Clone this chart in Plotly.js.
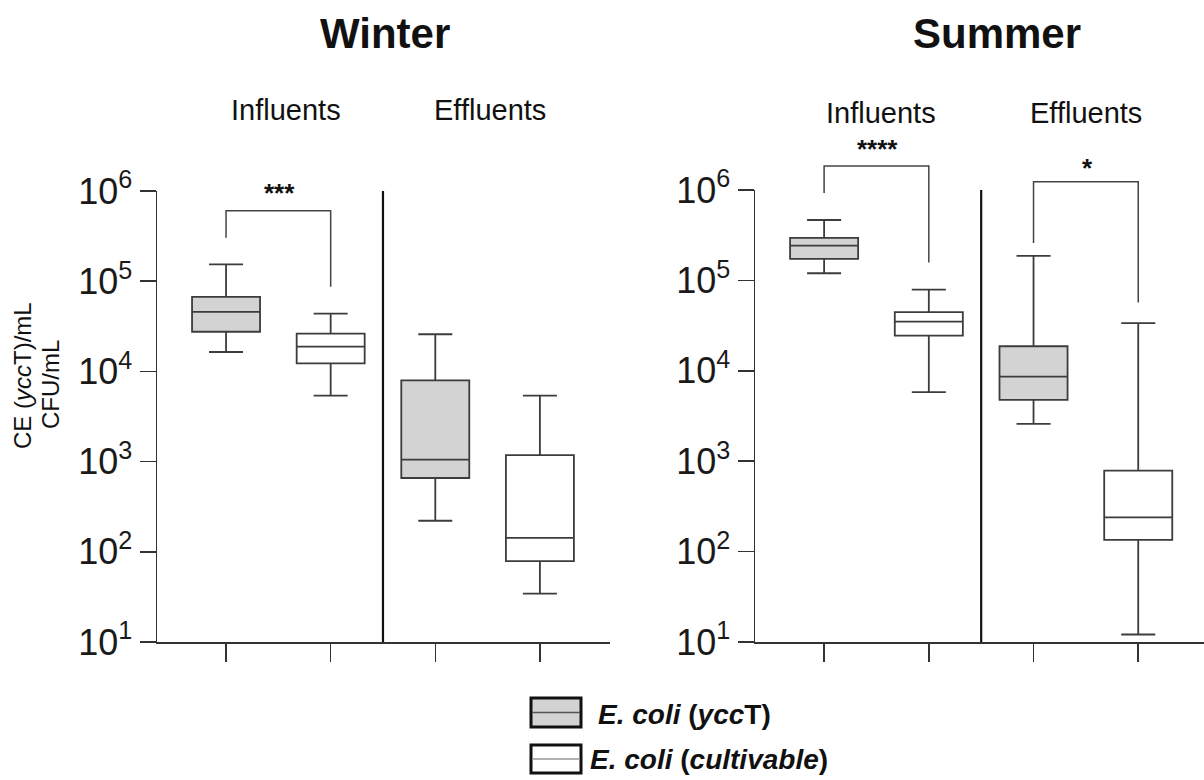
<!DOCTYPE html>
<html>
<head>
<meta charset="utf-8">
<script src="https://cdn.plot.ly/plotly-3.0.1.min.js"></script>
<style>
  html, body { margin: 0; padding: 0; background: #ffffff; }
  #chart { width: 1204px; height: 780px; }
</style>
</head>
<body>
<div id="chart"></div>
<script>
// ---- Data ----
const groups = ['Influents', 'Effluents'];
const seasons = ['Winter', 'Summer'];
const seriesNames = ['E. coli (yccT)', 'E. coli (cultivable)'];

// Winter, E. coli (yccT): [Influents, Effluents]
const winterYccLower  = [1.64e4, 221];
const winterYccQ1     = [2.75e4, 658];
const winterYccMedian = [4.56e4, 1050];
const winterYccQ3     = [6.7e4, 7970];
const winterYccUpper  = [1.54e5, 2.58e4];

// Winter, E. coli (cultivable)
const winterCultLower  = [5.4e3, 34.3];
const winterCultQ1     = [1.23e4, 79];
const winterCultMedian = [1.88e4, 143];
const winterCultQ3     = [2.62e4, 1180];
const winterCultUpper  = [4.36e4, 5380];

// Summer, E. coli (yccT)
const summerYccLower  = [1.2e5, 2590];
const summerYccQ1     = [1.73e5, 4780];
const summerYccMedian = [2.42e5, 8600];
const summerYccQ3     = [2.95e5, 1.87e4];
const summerYccUpper  = [4.66e5, 1.87e5];

// Summer, E. coli (cultivable)
const summerCultLower  = [5.8e3, 12.1];
const summerCultQ1     = [2.45e4, 135];
const summerCultMedian = [3.5e4, 239];
const summerCultQ3     = [4.45e4, 785];
const summerCultUpper  = [7.9e4, 3.37e4];

const yTickVals = [10, 100, 1000, 10000, 100000, 1000000];
const yTickText = ['10<sup>1</sup>', '10<sup>2</sup>', '10<sup>3</sup>', '10<sup>4</sup>', '10<sup>5</sup>', '10<sup>6</sup>'];
const significance = { winterInfluents: '***', summerInfluents: '****', summerEffluents: '*' };

// positions: yccT boxes at 0 and 2, cultivable at 1 and 3
const yccPos = [0, 2];
const cultPos = [1, 3];

// ---- helpers ----
const W = 1204, H = 780;
const px = x => x / W;
const py = y => 1 - y / H;
const FONT = 'Liberation Sans, Arial, Helvetica, sans-serif';
const LINE = '#3c3c3c';

function box(name, xs, lo, q1, med, q3, hi, fill, xa, ya) {
  return {
    type: 'box', name: name, x: xs,
    lowerfence: lo, q1: q1, median: med, q3: q3, upperfence: hi,
    width: 0.65, whiskerwidth: 0.5,
    fillcolor: fill, line: { color: LINE, width: 1.8 },
    boxpoints: false, showlegend: false, hoverinfo: 'skip',
    xaxis: xa, yaxis: ya
  };
}

const data = [
  box(seriesNames[0], yccPos, winterYccLower, winterYccQ1, winterYccMedian, winterYccQ3, winterYccUpper, '#d3d3d3', 'x', 'y'),
  box(seriesNames[1], cultPos, winterCultLower, winterCultQ1, winterCultMedian, winterCultQ3, winterCultUpper, '#ffffff', 'x', 'y'),
  box(seriesNames[0], yccPos, summerYccLower, summerYccQ1, summerYccMedian, summerYccQ3, summerYccUpper, '#d3d3d3', 'x2', 'y2'),
  box(seriesNames[1], cultPos, summerCultLower, summerCultQ1, summerCultMedian, summerCultQ3, summerCultUpper, '#ffffff', 'x2', 'y2')
];

function xAxis(domain, range) {
  return {
    domain: domain, range: range, type: 'linear',
    showline: true, linecolor: '#333', linewidth: 1.5,
    ticks: 'outside', ticklen: 18, tickwidth: 1.5, tickcolor: '#333',
    tickvals: [0, 1, 2, 3], ticktext: ['', '', '', ''],
    showgrid: false, zeroline: false, fixedrange: true, automargin: false
  };
}
function yAxis(domain, anchor) {
  return {
    domain: domain, type: 'log', range: [1, 6], anchor: anchor,
    showline: true, linecolor: '#333', linewidth: 1.5,
    ticks: 'outside', ticklen: 16, tickwidth: 1.5, tickcolor: '#333',
    tickvals: yTickVals, ticktext: yTickText,
    tickfont: { family: FONT, size: 36, color: '#1a1a1a' },
    showgrid: false, zeroline: false, fixedrange: true, automargin: false
  };
}

const shapes = [];
// separators between Influents and Effluents
shapes.push({ type: 'line', xref: 'x', yref: 'paper', x0: 1.5, x1: 1.5, y0: py(642), y1: py(191), line: { color: '#111', width: 2.2 } });
shapes.push({ type: 'line', xref: 'x2', yref: 'paper', x0: 1.5, x1: 1.5, y0: py(642), y1: py(190), line: { color: '#111', width: 2.2 } });

function bracket(xref, xa, xb, top, leftBot, rightBot) {
  return {
    type: 'path', xref: xref, yref: 'paper',
    path: `M ${xa},${py(leftBot)} L ${xa},${py(top)} L ${xb},${py(top)} L ${xb},${py(rightBot)}`,
    line: { color: '#444', width: 1.5 }
  };
}
shapes.push(bracket('x', 0, 1, 210.7, 237.7, 286.7));
shapes.push(bracket('x2', 0, 1, 166, 193, 262.5));
shapes.push(bracket('x2', 2, 3, 181.8, 243, 302.5));

// legend swatches
shapes.push({ type: 'rect', xref: 'paper', yref: 'paper', x0: px(531), x1: px(581), y0: py(727), y1: py(698), fillcolor: '#d3d3d3', line: { color: '#111', width: 3 } });
shapes.push({ type: 'line', xref: 'paper', yref: 'paper', x0: px(532), x1: px(580), y0: py(712.5), y1: py(712.5), line: { color: '#555', width: 1.5 } });
shapes.push({ type: 'rect', xref: 'paper', yref: 'paper', x0: px(531), x1: px(581), y0: py(773), y1: py(745), fillcolor: '#ffffff', line: { color: '#111', width: 3 } });
shapes.push({ type: 'line', xref: 'paper', yref: 'paper', x0: px(532), x1: px(580), y0: py(759), y1: py(759), line: { color: '#999', width: 1.5 } });

function ann(text, x, y, size, opts) {
  return Object.assign({
    text: text, xref: 'paper', yref: 'paper', x: px(x), y: py(y),
    xanchor: 'center', yanchor: 'middle', showarrow: false,
    font: { family: FONT, size: size, color: '#111' }
  }, opts || {});
}

const annotations = [
  ann('<b>' + seasons[0] + '</b>', 385, 34, 42),
  ann('<b>' + seasons[1] + '</b>', 997, 34, 42),
  ann(groups[0], 286, 110, 29),
  ann(groups[1], 490, 110, 29),
  ann(groups[0], 881, 113, 29),
  ann(groups[1], 1086, 113, 29),
  ann('<b>' + significance.winterInfluents + '</b>', 279, 193, 26),
  ann('<b>' + significance.summerInfluents + '</b>', 877, 149, 26),
  ann('<b>' + significance.summerEffluents + '</b>', 1087, 168, 26),
  ann('CE (<i>ycc</i>T)/mL', 22, 376, 24, { textangle: -90 }),
  ann('CFU/mL', 50, 385, 24, { textangle: -90 }),
  ann('<b><i>E. coli</i> (<i>ycc</i>T)</b>', 596, 714, 28, { xanchor: 'left' }),
  ann('<b><i>E. coli</i> (<i>cultivable</i>)</b>', 588, 759, 28, { xanchor: 'left' })
];

const layout = {
  width: W, height: H,
  margin: { l: 0, r: 0, t: 0, b: 0, pad: 0 },
  paper_bgcolor: '#ffffff', plot_bgcolor: 'rgba(0,0,0,0)',
  showlegend: false,
  xaxis: xAxis([px(157), px(610)], [-0.66, 3.67]),
  yaxis: yAxis([py(642), py(191)], 'x'),
  xaxis2: xAxis([px(755), 1], [-0.66, 3.628]),
  yaxis2: yAxis([py(642), py(190)], 'x2'),
  shapes: shapes,
  annotations: annotations,
  font: { family: FONT }
};
layout.xaxis.anchor = 'y';
layout.xaxis2.anchor = 'y2';

Plotly.newPlot('chart', data, layout, { staticPlot: true, displayModeBar: false });
</script>
</body>
</html>
